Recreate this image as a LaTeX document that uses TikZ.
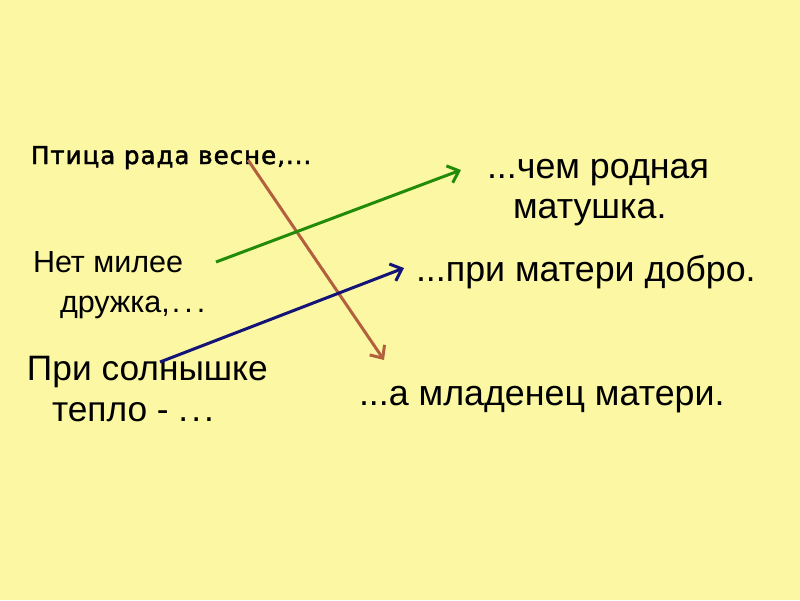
\documentclass[tikz,border=0pt]{standalone}
\usepackage{fontspec}
\setmainfont{Liberation Sans}
\newfontfamily\dvfont[LetterSpace=4,FakeBold=2]{DejaVu Sans}
\usetikzlibrary{arrows.meta}
\definecolor{bg}{RGB}{251,247,162}
\definecolor{brownarr}{RGB}{178,96,62}
\definecolor{greenarr}{RGB}{34,140,10}
\definecolor{bluearr}{RGB}{20,20,120}
\newcommand\wdots[1]{.\kern#1.\kern#1.}
\tikzset{
  txt/.style={anchor=base west, inner sep=0pt, outer sep=0pt, text=black},
  big/.style={txt, font=\fontsize{35.8}{40}\selectfont},
  left3/.style={txt, font=\fontsize{35.3}{40}\selectfont},
  mid/.style={txt, font=\fontsize{30.5}{36}\selectfont},
  small/.style={txt, font=\dvfont\fontsize{24.5}{28}\selectfont},
  conn/.style={line width=3pt, -{Straight Barb[length=10pt,width=18pt,line width=3pt]}},
}
\begin{document}
\begin{tikzpicture}[x=1pt,y=-1pt]
\fill[bg] (0,0) rectangle (800,600);
\useasboundingbox (0,0) rectangle (800,600);
\node[small] (t1) at (31,164) {Птица рада весне,...};
\node[mid] (t2a) at (33,272) {Нет милее};
\node[mid] (t2b) at (60,312) {дружка,\kern2pt\wdots{4pt}};
\node[left3] (t3a) at (27,380) {При солнышке};
\node[left3] (t3b) at (52,421) {тепло - \wdots{3pt}};
\node[big] (r1a) at (487,178) {...чем родная};
\node[big] (r1b) at (513,218) {матушка.};
\node[big] (r2) at (416,281) {...при матери добро.};
\node[big] (r3) at (359,405) {...а младенец матери.};
\coordinate (bs) at (248,160);
\coordinate (be) at (384,360);
\coordinate (gs) at (216,262);
\coordinate (ge) at (461,170);
\coordinate (ns) at (160,362);
\coordinate (ne) at (404,268);
\draw[conn, brownarr] (bs) -- (be);
\draw[conn, greenarr] (gs) -- (ge);
\draw[conn, bluearr] (ns) -- (ne);
\end{tikzpicture}
\end{document}
